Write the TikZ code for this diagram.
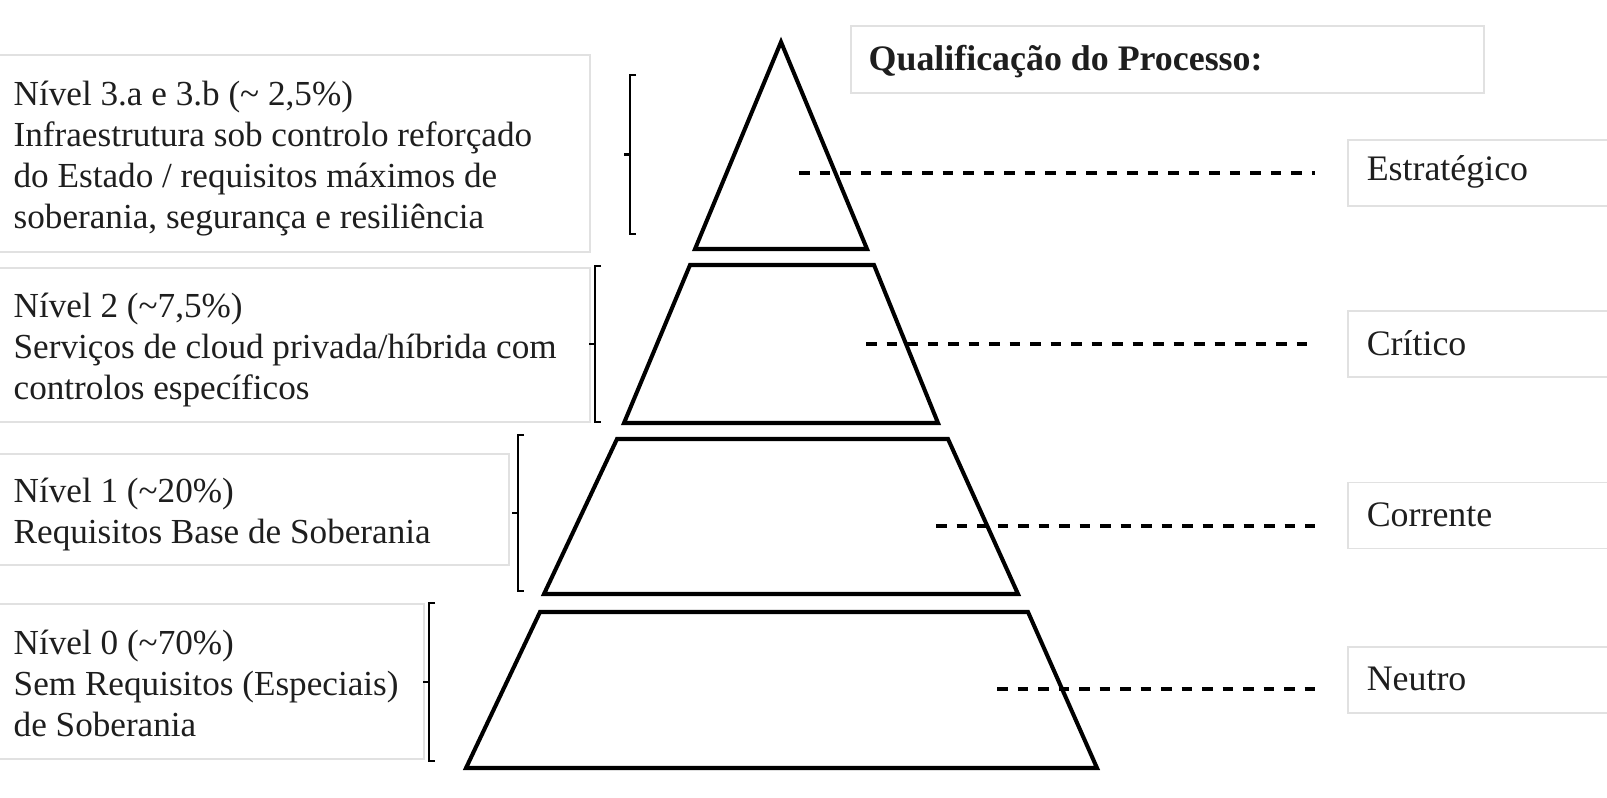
\documentclass[tikz,border=0pt]{standalone}
\usepackage{fontspec}
\setmainfont{Liberation Serif}
\usepackage{xcolor}
\usetikzlibrary{positioning,calc}
\definecolor{txtgray}{RGB}{30,30,30}
\definecolor{boxline}{RGB}{225,225,225}

\begin{document}
\begin{tikzpicture}[
					x=0.01cm, y=-0.01cm,
					% khung bên trái / bên phải (viền xám rất nhạt)
					lbox/.style={draw=boxline, line width=0.5pt, inner sep=0pt},
					% chữ trong khung
					ltext/.style={
						align=left, inner sep=0pt, text=txtgray, yshift=-0.05cm,
						font=\fontsize{10}{11.7}\selectfont
					},
					% tầng của kim tự tháp
					tier/.style={draw=black, line width=1.15pt, line join=miter},
					% ngoặc vuông
					brk/.style={draw=black, line width=0.6pt},
					% đường nét đứt
					dashline/.style={draw=black, line width=1pt,
						dash pattern=on 0.105cm off 0.1cm, shorten >=0.32cm}
					]
					
					\useasboundingbox (0,0) rectangle (1607,798);
					
					% --- 1. KIM TỰ THÁP ---
					\draw[tier] (781,42) -- (867,249) -- (695,249) -- cycle;
					\draw[tier] (690,265) -- (874,265) -- (938,423) -- (624,423) -- cycle;
					\draw[tier] (617,439) -- (948,439) -- (1018,594) -- (544,594) -- cycle;
					\draw[tier] (540,612) -- (1028,612) -- (1097,768) -- (466,768) -- cycle;
					
					\coordinate (d3) at (799,173);
					\coordinate (d2) at (866,344);
					\coordinate (d1) at (936,526);
					\coordinate (d0) at (997,689);
					
					% --- 2. KHUNG BÊN TRÁI ---
					\node[lbox, minimum width=5.95cm, minimum height=1.97cm] (b3) at (292.5,153.5) {};
					\node[lbox, minimum width=5.95cm, minimum height=1.54cm] (b2) at (292.5,345) {};
					\node[lbox, minimum width=5.14cm, minimum height=1.11cm] (b1) at (252,509.5) {};
					\node[lbox, minimum width=4.29cm, minimum height=1.55cm] (b0) at (209.5,681.5) {};
					
					\node[ltext, right=0.19cm of b3.west] (t3)
					{Nível 3.a e 3.b (\textasciitilde{} 2,5\%)\\
						Infraestrutura sob controlo reforçado\\
						do Estado / requisitos máximos de\\
						soberania, segurança e resiliência};
					\node[ltext, right=0.19cm of b2.west] (t2)
					{Nível 2 (\textasciitilde7,5\%)\\
						Serviços de cloud privada/híbrida com\\
						controlos específicos};
					\node[ltext, right=0.19cm of b1.west] (t1)
					{Nível 1 (\textasciitilde20\%)\\
						Requisitos Base de Soberania};
					\node[ltext, right=0.19cm of b0.west, yshift=0.03cm] (t0)
					{Nível 0 (\textasciitilde70\%)\\
						Sem Requisitos (Especiais)\\
						de Soberania};
					
					% ngoặc vuông: x / trên / dưới
					\foreach \bx/\bt/\bb in {630/75/234, 595/266/422, 518/435/591, 429/603/761} {
						\draw[brk] (\bx+6,\bt) -- (\bx,\bt) -- (\bx,\bb) -- (\bx+6,\bb);
						\draw[brk] (\bx,{(\bt+\bb)/2}) -- (\bx-6,{(\bt+\bb)/2});
					}
					
					% --- 3. KHUNG BÊN PHẢI ---
					\node[lbox, minimum width=6.33cm, minimum height=0.67cm] (title) at (1167.5,59.5) {};
					\node[ltext, right=0.18cm of title.west, yshift=0.03cm,
					font=\fontsize{10.2}{11.7}\selectfont\bfseries] (ttext) {Qualificação do Processo:};
					
					\foreach \nm/\yy/\lbl in {q3/173/Estratégico, q2/344/Crítico, q1/515.5/Corrente, q0/680/Neutro} {
						\node[lbox, minimum width=2.64cm, minimum height=0.66cm] (\nm) at (1480,\yy) {};
						\node[ltext, right=0.19cm of \nm.west, yshift=0.06cm,
						font=\fontsize{10.2}{11.7}\selectfont] (\nm t) {\lbl};
					}
					
					% --- 4. ĐƯỜNG NÉT ĐỨT ---
					\draw[dashline] (d3) -- (d3 -| q3.west);
					\draw[dashline] (d2) -- (d2 -| q2.west);
					\draw[dashline] (d1) -- (d1 -| q1.west);
					\draw[dashline] (d0) -- (d0 -| q0.west);
				\end{tikzpicture}
\end{document}
